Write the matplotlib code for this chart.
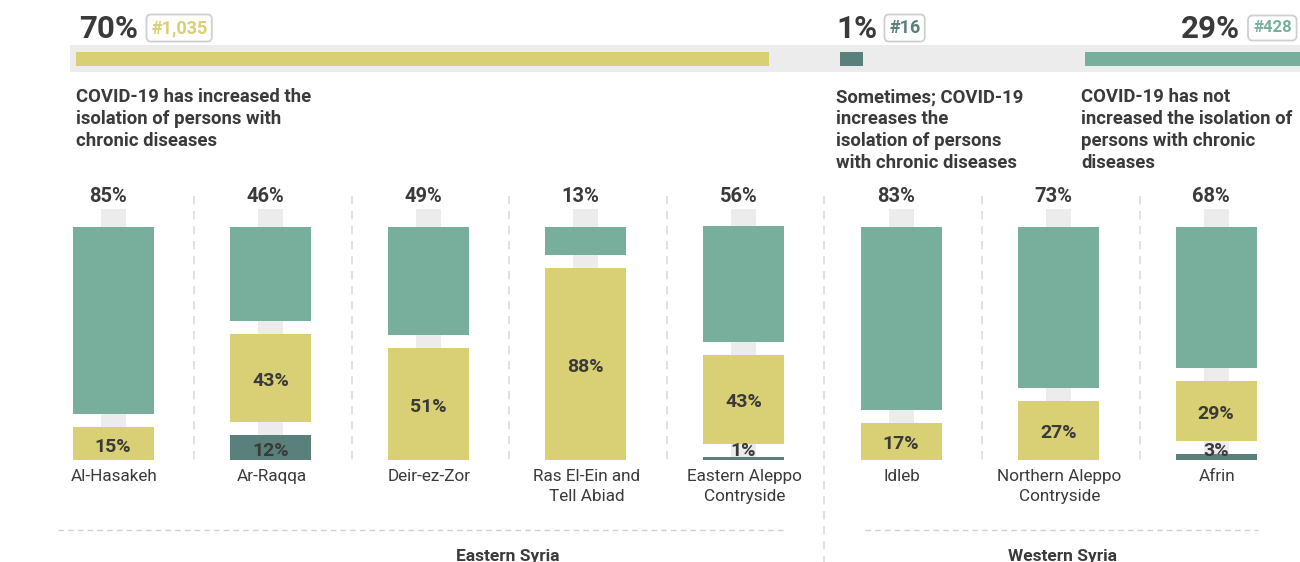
import matplotlib.pyplot as plt
from matplotlib.patches import Rectangle

# --- data -------------------------------------------------------------
regions = ['Al-Hasakeh', 'Ar-Raqqa', 'Deir-ez-Zor', 'Ras El-Ein and\nTell Abiad',
           'Eastern Aleppo\nContryside', 'Idleb', 'Northern Aleppo\nContryside', 'Afrin']
not_increased = [85, 46, 49, 13, 56, 83, 73, 68]   # green, on top
increased = [15, 43, 51, 88, 43, 17, 27, 29]        # yellow
sometimes = [0, 12, 0, 0, 1, 0, 0, 3]               # dark teal, bottom

summary_pct = [70, 1, 29]
summary_count = ['#1,035', '#16', '#428']
summary_text = [
    'COVID-19 has increased the\nisolation of persons with\nchronic diseases',
    'Sometimes; COVID-19\nincreases the\nisolation of persons\nwith chronic diseases',
    'COVID-19 has not\nincreased the isolation of\npersons with chronic\ndiseases',
]
groups = ['Eastern Syria', 'Western Syria']
group_sizes = [5, 3]

GREEN = '#77af9c'
YELLOW = '#d9cf74'
DARK = '#5a807c'
STRIP = '#ececec'
TXT = '#3a3a3a'
summary_colors = [YELLOW, DARK, GREEN]

plt.rcParams['font.family'] = ['Roboto', 'DejaVu Sans']

fig = plt.figure(figsize=(13, 5.62), dpi=100)
ax = fig.add_axes([0, 0, 1, 1])
ax.set_xlim(0, 1300)
ax.set_ylim(562, 0)
ax.axis('off')

# --- top summary band -------------------------------------------------
ax.add_patch(Rectangle((70, 45), 1240, 27, color=STRIP, lw=0, zorder=0))
bar_start = [76, 840, 1085]
px_per_pct = 9.9
for i, (pct, cnt, txt, col) in enumerate(zip(summary_pct, summary_count, summary_text, summary_colors)):
    w = max(pct * px_per_pct, 23)
    ax.barh(59, w, height=14, left=bar_start[i], color=col, lw=0, zorder=1)
    if i < 2:
        ax.text([79, 836][i], 29, f'{pct}%', fontsize=22.5,
                fontweight='bold', color=TXT, va='center', ha='left')
        ax.text([151, 889][i], 28, cnt, fontsize=13, fontweight='bold', color=col,
                va='center', ha='left',
                bbox=dict(boxstyle='round,pad=0.25', fc='white', ec='#cfcfcf', lw=1.3))
    else:
        ax.text(1240, 29, f'{pct}%', fontsize=22.5, fontweight='bold', color=TXT,
                va='center', ha='right')
        ax.text(1253, 28, cnt, fontsize=12, fontweight='bold', color=col, va='center', ha='left',
                bbox=dict(boxstyle='round,pad=0.3', fc='white', ec='#cfcfcf', lw=1.3))
    ax.text(bar_start[i] - (4 if i > 0 else 0), 88.5, txt, fontsize=13.3, fontweight='bold',
            color=TXT, va='top', ha='left', linespacing=1.28)

# --- stacked columns --------------------------------------------------
x0, step = 113, 157.6
top_y, base_y, gap = 227, 460, 13
bar_w, strip_w = 81, 25
for i, name in enumerate(regions):
    cx = x0 + step * i
    segs = [(v, c) for v, c in zip([not_increased[i], increased[i], sometimes[i]],
                                   [GREEN, YELLOW, DARK]) if v > 0]
    avail = (base_y - top_y) - gap * (len(segs) - 1)
    k = avail / sum(v for v, _ in segs)
    ax.bar(cx, base_y - 209, bottom=209, width=strip_w, color=STRIP, lw=0, zorder=1)
    y = base_y
    for v, c in reversed(segs):
        h = max(v * k, 3)
        ax.bar(cx, -h, bottom=y, width=bar_w, color=c, lw=0, zorder=2)
        if c != GREEN:
            ly = min(y - h / 2 + 3, 451)
            ax.text(cx, ly, f'{v}%', fontsize=14, fontweight='bold', color=TXT,
                    ha='center', va='center', zorder=3)
        y -= h + gap
    ax.text(cx - 5, 197, f'{not_increased[i]}%', fontsize=14.5, fontweight='bold', color=TXT,
            ha='center', va='center')
    ax.text(cx + 1, 469, name, fontsize=12.3, color=TXT, ha='center', va='top', linespacing=1.4)
    # separators
    if i < len(regions) - 1:
        sx = cx + 81
        y_end = 562 if i == group_sizes[0] - 1 else 460
        ax.plot([sx, sx], [196, y_end], color='#dcdcdc', lw=1.2, ls=(0, (5, 4)))

# --- group footers ----------------------------------------------------
spans = [(58, 786), (865, 1258)]
label_x = [508, 1062]
for g, (xa, xb), lx in zip(groups, spans, label_x):
    ax.plot([xa, xb], [530, 530], color='#d0d0d0', lw=1.0, ls=(0, (4, 3)))
    ax.text(lx, 556, g, fontsize=12.5, fontweight='bold', color=TXT, ha='center', va='center')

fig.savefig('out.png', dpi=100)
